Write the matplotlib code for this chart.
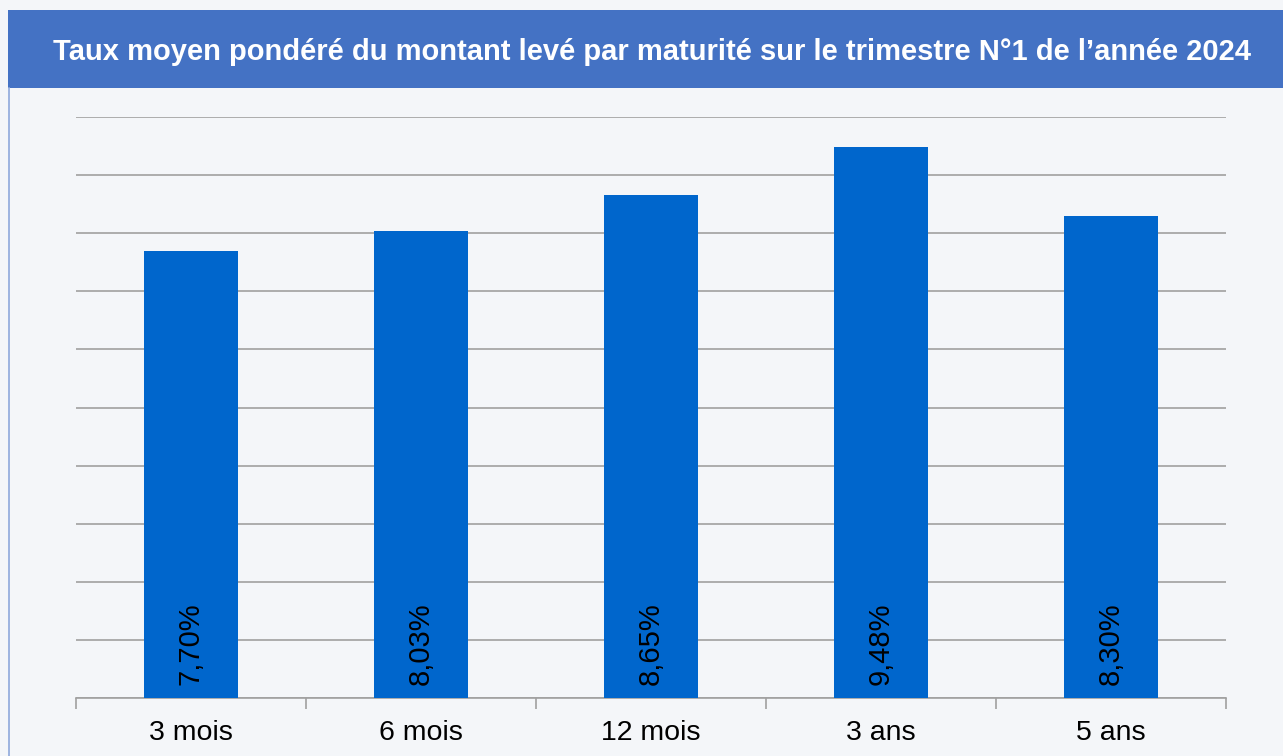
# coding: utf-8
import numpy as np
import matplotlib.pyplot as plt
from matplotlib.patches import Rectangle

plt.rcParams['font.family'] = ['Liberation Sans', 'DejaVu Sans']

# données
categories = ["3 mois", "6 mois", "12 mois", "3 ans", "5 ans"]
taux = [7.70, 8.03, 8.65, 9.48, 8.30]
etiquettes = ["7,70%", "8,03%", "8,65%", "9,48%", "8,30%"]
titre = "Taux moyen pondéré du montant levé par maturité sur le trimestre N°1 de l’année 2024"

W, H = 1283, 756
fig = plt.figure(figsize=(W / 100, H / 100), dpi=100)
fig.patch.set_facecolor("#F4F6F9")

# bandeau du titre
fig.patches.append(Rectangle((8 / W, 1 - 88 / H), 1 - 8 / W, 78 / H,
                             transform=fig.transFigure, facecolor="#4472C4",
                             edgecolor="none", zorder=0))
# fine bordure gauche
fig.add_artist(plt.Line2D([8.5 / W, 8.5 / W], [0, 1 - 88 / H], transform=fig.transFigure,
                          color="#8EA9DB", lw=1.2))
fig.text(652 / W, 1 - 52 / H, titre, ha="center", va="center",
         color="white", fontsize=21, fontweight="bold")

ax = fig.add_axes([76 / W, 1 - 698 / H, 1150 / W, 581 / H])
ax.set_facecolor("none")

x = np.arange(len(categories))
bars = ax.bar(x, taux, width=0.405, color="#0066CC", zorder=3)

for xi, lab in zip(x, etiquettes):
    ax.text(xi, 0.22, lab, rotation=90, ha="center", va="bottom",
            fontsize=21, color="black", zorder=4)

ax.set_xlim(-0.5, len(categories) - 0.5)
ax.set_ylim(0, 10)
ax.set_yticks(np.arange(0, 11, 1))
ax.yaxis.grid(True, color="#A0A0A0", lw=1.2, zorder=0)
ax.tick_params(axis="y", left=False, labelleft=False)

ax.set_xticks(x)
ax.set_xticklabels(categories, fontsize=20.5)
ax.tick_params(axis="x", which="major", length=0, pad=16)
ax.set_xticks(np.arange(-0.5, len(categories), 1), minor=True)
ax.tick_params(axis="x", which="minor", length=8, color="#A0A0A0", width=1.2)

for s in ["left", "right", "top"]:
    ax.spines[s].set_visible(False)
ax.spines["bottom"].set_color("#A0A0A0")
ax.spines["bottom"].set_linewidth(1.2)

plt.savefig("out.png", dpi=100, facecolor=fig.get_facecolor())
